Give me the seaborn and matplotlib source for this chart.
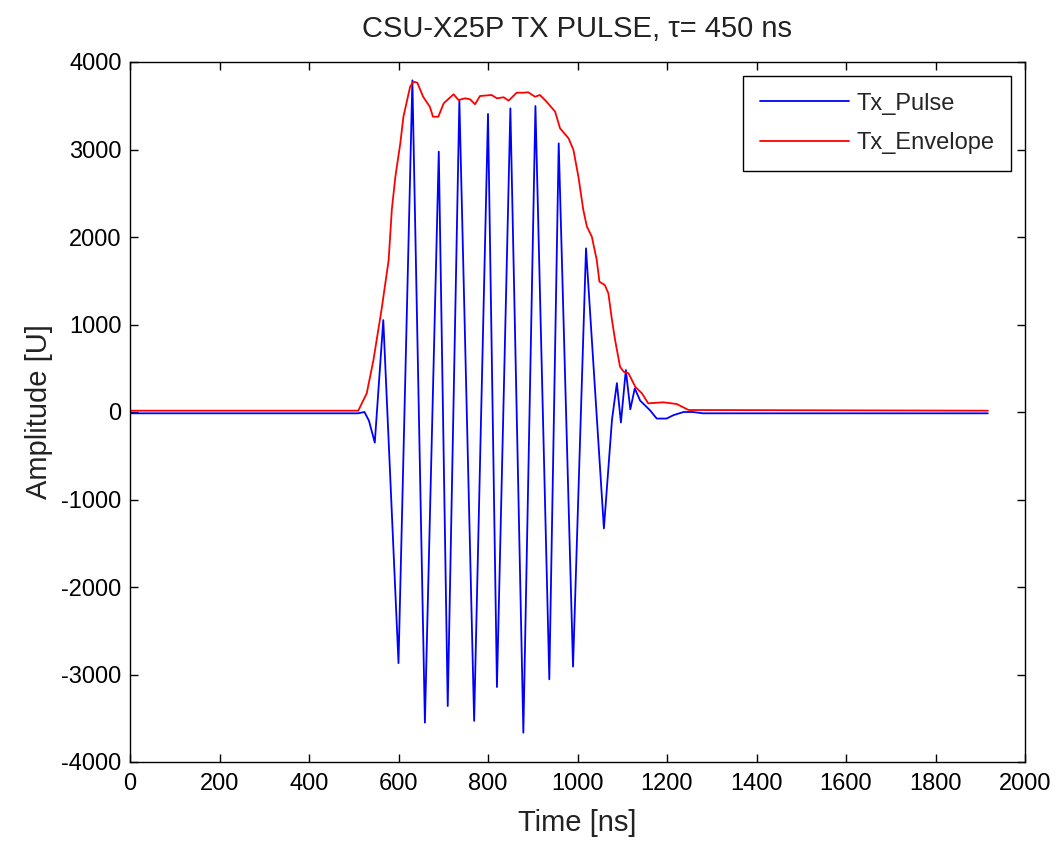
import matplotlib
matplotlib.use("Agg")
import matplotlib.pyplot as plt
import seaborn as sns
import pandas as pd

# ---- data ----
pulse_t = [0, 509, 524, 534, 547, 566, 600, 631, 659, 690, 710, 736, 769, 800, 820,
           850, 879, 906, 937, 958, 990, 1019, 1059, 1077, 1088, 1097, 1108, 1118,
           1128, 1140, 1162, 1177, 1199, 1215, 1237, 1258, 1280, 1917]
pulse_v = [-15, -15, 0, -100, -350, 1050, -2870, 3790, -3550, 2975, -3360, 3566,
           -3530, 3406, -3143, 3470, -3665, 3497, -3055, 3070, -2910, 1870, -1330,
           -91, 330, -120, 480, 30, 270, 130, 20, -75, -75, -35, 0, 0, -15, -15]

env_t = [0, 510, 529, 544, 562, 578, 585, 593, 604, 611, 626, 633, 642, 655, 670,
         677, 689, 701, 723, 734, 749, 760, 771, 782, 808, 820, 835, 846, 864, 879,
         890, 905, 916, 931, 950, 961, 980, 991, 1002, 1013, 1021, 1032, 1043, 1049,
         1061, 1069, 1077, 1084, 1095, 1103, 1114, 1129, 1144, 1158, 1192, 1222,
         1248, 1917]
env_v = [15, 15, 213, 594, 1166, 1737, 2309, 2689, 3070, 3375, 3718, 3775, 3764,
         3603, 3489, 3375, 3375, 3528, 3631, 3566, 3585, 3574, 3517, 3611, 3623,
         3585, 3597, 3558, 3649, 3649, 3654, 3603, 3623, 3546, 3432, 3242, 3128,
         2994, 2689, 2309, 2118, 2004, 1737, 1489, 1451, 1356, 1051, 823, 518, 461,
         442, 289, 213, 99, 111, 91, 23, 15]

x_ticks = [0, 200, 400, 600, 800, 1000, 1200, 1400, 1600, 1800, 2000]
y_ticks = [-4000, -3000, -2000, -1000, 0, 1000, 2000, 3000, 4000]

title = "CSU-X25P TX PULSE, \u03c4= 450 ns"

# ---- plotting ----
sns.set_style("white")
plt.rcParams["font.family"] = ["Liberation Sans", "DejaVu Sans"]
plt.rcParams["axes.unicode_minus"] = False

fig = plt.figure(figsize=(10.59, 8.5), dpi=100)
ax = fig.add_axes([130 / 1059, 1 - 762 / 850, (1025 - 130) / 1059, (762 - 62) / 850])

df_p = pd.DataFrame({"t": pulse_t, "v": pulse_v})
df_e = pd.DataFrame({"t": env_t, "v": env_v})
sns.lineplot(data=df_p, x="t", y="v", ax=ax, color="#0000ff", lw=1.3,
             label="Tx_Pulse", estimator=None, sort=False)
sns.lineplot(data=df_e, x="t", y="v", ax=ax, color="#ff0000", lw=1.3,
             label="Tx_Envelope", estimator=None, sort=False)

ax.set_xlim(0, 2000)
ax.set_ylim(-4000, 4000)
ax.set_xticks(x_ticks)
ax.set_yticks(y_ticks)
ax.tick_params(direction="in", length=6, width=1, labelsize=17,
               top=True, right=True, bottom=True, left=True, colors="black")
ax.tick_params(axis="x", pad=8)
ax.tick_params(axis="y", pad=6)
for s in ax.spines.values():
    s.set_visible(True)
    s.set_color("black")
    s.set_linewidth(1)

ax.set_xlabel("Time [ns]", fontsize=21, labelpad=10, color="#222222")
ax.set_ylabel("Amplitude [U]", fontsize=21, labelpad=6, color="#222222")
ax.set_title(title, fontsize=21, pad=18, color="#222222")

leg = ax.legend(loc="upper right", fontsize=17, frameon=True, fancybox=False,
                framealpha=1, edgecolor="black", handlelength=3.8,
                borderaxespad=0.6, labelspacing=0.75, handletextpad=0.3,
                borderpad=0.7)
leg.get_frame().set_linewidth(1)

fig.savefig("out.png", dpi=100)
